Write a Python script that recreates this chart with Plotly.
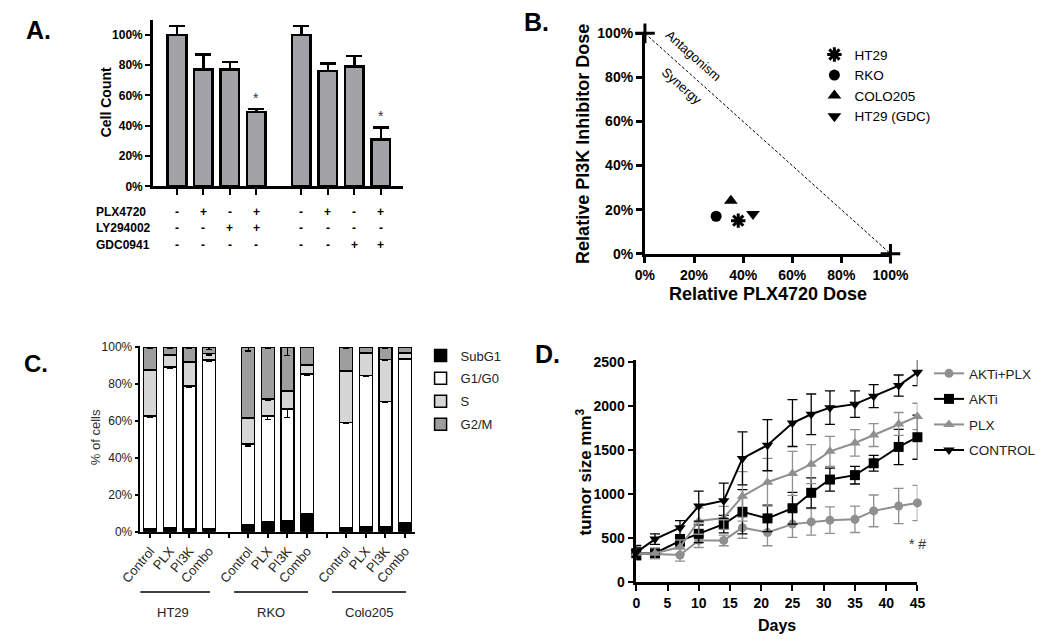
import plotly.graph_objects as go

W, H = 1050, 643
FONT = "Liberation Sans, Arial, sans-serif"
NARROW = "Liberation Sans Narrow, Liberation Sans, Arial, sans-serif"

# ---------------- Panel A data ----------------
a_values = [100, 77, 77, 49, 100, 76, 79, 31]
a_errors = [6, 10, 5, 2, 6, 5, 7, 8]
a_plx = ["-", "+", "-", "+", "-", "+", "-", "+"]
a_ly = ["-", "-", "+", "+", "-", "-", "-", "-"]
a_gdc = ["-", "-", "-", "-", "-", "-", "+", "+"]
a_sig = ["", "", "", "*", "", "", "", "*"]
a_row_labels = ["PLX4720", "LY294002", "GDC0941"]
a_yticks = [0, 20, 40, 60, 80, 100]
a_yticktext = ["0%", "20%", "40%", "60%", "80%", "100%"]

# ---------------- Panel B data ----------------
b_lines = ["HT29", "RKO", "COLO205", "HT29 (GDC)"]
b_plx_dose = [38, 29, 35, 44]
b_pi3k_dose = [15, 17, 24, 18]
b_isobole_x = [0, 100]
b_isobole_y = [100, 0]
b_ticks = [0, 20, 40, 60, 80, 100]
b_ticktext = ["0%", "20%", "40%", "60%", "80%", "100%"]

# ---------------- Panel C data ----------------
c_groups = ["HT29", "RKO", "Colo205"]
c_treatments = ["Control", "PLX", "PI3K", "Combo"]
c_phases = ["SubG1", "G1/G0", "S", "G2/M"]
c_subg1 = [1.3, 2.3, 1.5, 1.5, 3.5, 5.3, 5.8, 9.7, 2.0, 2.5, 2.5, 4.9]
c_g1 = [61.3, 86.9, 77.5, 91.5, 44.1, 57.3, 60.7, 75.8, 57.3, 82.3, 68.2, 88.8]
c_s = [25.2, 6.6, 13.0, 3.6, 14.1, 9.4, 9.7, 4.8, 27.8, 12.0, 22.6, 3.1]
c_g2m = [12.2, 4.2, 8.0, 3.4, 38.3, 28.0, 23.8, 9.7, 12.9, 3.2, 6.7, 3.2]
c_g1_err = [0.8, 0.5, 0.8, 0.5, 1.2, 1.8, 4.5, 0.5, 0.5, 0.4, 0.4, 0.4]
c_s_err = [0.4, 0.4, 0.4, 0.8, 0.4, 0.8, 0.4, 0.3, 0.3, 0.3, 0.3, 0.3]
c_g2m_err = [0.5, 0.5, 0.5, 1.0, 2.0, 0.8, 4.5, 0.3, 0.8, 0.3, 0.8, 0.3]
c_yticks = [0, 20, 40, 60, 80, 100]
c_yticktext = ["0%", "20%", "40%", "60%", "80%", "100%"]

# ---------------- Panel D data ----------------
d_days = [0, 3, 7, 10, 14, 17, 21, 25, 28, 31, 35, 38, 42, 45]
d_combo = [330, 320, 310, 475, 475, 620, 565, 660, 685, 705, 715, 810, 865, 900]
d_combo_err = [60, 50, 70, 80, 60, 120, 150, 150, 150, 150, 150, 180, 200, 200]
d_akti = [330, 330, 470, 550, 660, 800, 725, 840, 1015, 1165, 1215, 1350, 1535, 1645]
d_akti_err = [60, 50, 60, 100, 100, 250, 150, 180, 170, 130, 100, 90, 200, 250]
d_plx = [330, 330, 400, 695, 730, 975, 1135, 1235, 1340, 1485, 1580, 1670, 1795, 1880]
d_plx_err = [80, 60, 80, 150, 130, 280, 270, 250, 220, 170, 150, 130, 130, 150]
d_control = [340, 490, 620, 865, 925, 1405, 1555, 1805, 1905, 1980, 2020, 2110, 2230, 2380]
d_control_err = [80, 60, 80, 170, 200, 300, 290, 265, 230, 190, 150, 130, 120, 150]
d_series = ["AKTi+PLX", "AKTi", "PLX", "CONTROL"]
d_xticks = [0, 5, 10, 15, 20, 25, 30, 35, 40, 45]
d_yticks = [0, 500, 1000, 1500, 2000, 2500]


def fx(x):
    return x / W


def fy(y):
    return 1 - y / H


fig = go.Figure()
ann = []
shapes = []


def note(text, x, y, size, bold=False, color="black", angle=0, xanchor="center"):
    ann.append(dict(x=fx(x), y=fy(y), xref="paper", yref="paper", text=text, showarrow=False,
                    xanchor=xanchor, yanchor="middle", textangle=angle,
                    font=dict(size=size, color=color, weight="bold" if bold else "normal")))


# ================= Panel A =================
a_pos = [i + (0.7 if i >= 4 else 0) for i in range(len(a_values))]
fig.add_trace(go.Bar(
    x=a_pos, y=a_values, width=0.7, xaxis="x", yaxis="y", showlegend=False,
    marker=dict(color="#a3a3a7", line=dict(color="black", width=2.5)),
    error_y=dict(type="data", array=a_errors, arrayminus=[0] * len(a_errors),
                 symmetric=False, color="black", thickness=2.5, width=8),
))
for p, v, e, s in zip(a_pos, a_values, a_errors, a_sig):
    if s:
        ann.append(dict(x=p, y=v + e + 7.5, xref="x", yref="y", text=s, showarrow=False,
                        xanchor="center", yanchor="middle", font=dict(size=14, color="#333")))
for row, (lab, signs) in enumerate(zip(a_row_labels, [a_plx, a_ly, a_gdc])):
    ypix = [209, 226, 243][row]
    note(lab, 76, ypix, 12, bold=True, xanchor="left")
    for p, s in zip(a_pos, signs):
        ann.append(dict(x=p, y=fy(ypix), xref="x", yref="paper", text=s, showarrow=False,
                        xanchor="center", yanchor="middle", font=dict(size=12, weight="bold")))

# ================= Panel B =================
fig.add_trace(go.Scatter(
    x=b_isobole_x, y=b_isobole_y, mode="lines", xaxis="x2", yaxis="y2", showlegend=False,
    line=dict(color="black", width=1, dash="3px,2px"), cliponaxis=False))
fig.add_trace(go.Scatter(
    x=b_isobole_x, y=b_isobole_y, mode="markers", xaxis="x2", yaxis="y2", showlegend=False,
    marker=dict(symbol="cross-thin-open", size=14, color="black", line=dict(color="black", width=3)),
    cliponaxis=False))
b_symbols = ["asterisk-open", "circle", "triangle-up", "triangle-down"]
b_sizes = [12, 11, 12, 12]
for name, xv, yv, sym, sz in zip(b_lines, b_plx_dose, b_pi3k_dose, b_symbols, b_sizes):
    fig.add_trace(go.Scatter(
        x=[xv], y=[yv], mode="markers", name=name, xaxis="x2", yaxis="y2", legend="legend",
        marker=dict(symbol=sym, size=sz, color="black",
                    line=dict(color="black", width=3 if "open" in sym else 0))))
note("Antagonism", 698, 49, 13, angle=41.5)
note("Synergy", 687, 80, 13, angle=41.5)

# ================= Panel C =================
c_pos = []
c_labels = []
for g in range(len(c_groups)):
    for t in range(len(c_treatments)):
        c_pos.append(g * 5 + t)
        c_labels.append(c_treatments[t])
gap_ticks = [g * 5 + len(c_treatments) for g in range(len(c_groups) - 1)]

c_colors = ["black", "white", "#d6d6d6", "#9e9e9e"]
c_data = [c_subg1, c_g1, c_s, c_g2m]
c_errs = [None,
          dict(type="data", array=c_g1_err, color="black", thickness=1.2, width=3),
          dict(type="data", array=c_s_err, color="black", thickness=1.2, width=3),
          dict(type="data", array=[0] * 12, arrayminus=c_g2m_err, symmetric=False,
               color="black", thickness=1.2, width=3)]
for name, vals, col, err in zip(c_phases, c_data, c_colors, c_errs):
    kw = dict(error_y=err) if err else {}
    fig.add_trace(go.Bar(
        x=c_pos, y=vals, name=name, width=0.66, xaxis="x3", yaxis="y3", legend="legend2",
        legendgroup=name,
        marker=dict(color=col, line=dict(color="black", width=1.5)), **kw))
for g, gname in enumerate(c_groups):
    shapes.append(dict(type="line", xref="x3", yref="paper", x0=g * 5 - 0.72, x1=g * 5 + 3.05,
                       y0=fy(599), y1=fy(599), line=dict(color="black", width=1.5)))
    ann.append(dict(x=g * 5 + 1.15, y=fy(620), xref="x3", yref="paper", text=gname, showarrow=False,
                    xanchor="center", yanchor="middle", font=dict(size=13, color="#222")))

# ================= Panel D =================
d_vals = [d_combo, d_akti, d_plx, d_control]
d_errs = [d_combo_err, d_akti_err, d_plx_err, d_control_err]
d_colors = ["#8f8f8f", "black", "#8f8f8f", "black"]
d_symbols = ["circle", "square", "triangle-up", "triangle-down"]
d_msizes = [9, 10, 10, 10]
for name, vals, errs, col, sym, ms in zip(d_series, d_vals, d_errs, d_colors, d_symbols, d_msizes):
    fig.add_trace(go.Scatter(
        x=d_days, y=vals, name=name, mode="lines+markers", xaxis="x4", yaxis="y4",
        legend="legend3", legendgroup=name, cliponaxis=False,
        line=dict(color=col, width=2), marker=dict(symbol=sym, size=ms, color=col),
        error_y=dict(type="data", array=errs, color=col, thickness=1.3, width=5)))
note("* #", 931, 550, 14, color="#333")

# ================= Titles / labels =================
note("A.", 3, 23, 25, bold=True, xanchor="left")
note("B.", 520, 14, 25, bold=True, xanchor="left")
note("C.", 1, 365, 24, bold=True, xanchor="left")
note("D.", 532, 355, 25, bold=True, xanchor="left")
note("Cell Count", 88, 97, 14, bold=True, angle=-90)
note("Relative PI3K Inhibitor Dose", 583, 139, 18, bold=True, angle=-90)
note("Relative PLX4720 Dose", 776, 293, 18, bold=True)
note("% of cells", 77, 440, 13, color="#333", angle=-90)
note("tumor size mm<sup>3</sup>", 585, 476, 17, bold=True, angle=-90)
note("Days", 785, 633, 16, bold=True)

common = dict(showgrid=False, zeroline=False, showline=True, linecolor="black", ticks="outside",
              tickcolor="black")

fig.update_layout(
    width=W, height=H, margin=dict(l=0, r=0, t=0, b=0),
    paper_bgcolor="white", plot_bgcolor="white",
    font=dict(family=FONT, color="black"),
    barmode="stack",
    xaxis=dict(domain=[fx(137), fx(397)], range=[-0.91, 8.55], anchor="y", tickvals=a_pos,
               showticklabels=False, linewidth=2.5, ticklen=6, tickwidth=2, **common),
    yaxis=dict(domain=[fy(183), fy(12)], range=[0, 110], anchor="x", tickvals=a_yticks,
               ticktext=a_yticktext, tickfont=dict(size=12, weight="bold"), linewidth=2.5,
               ticklen=5, tickwidth=2, **common),
    xaxis2=dict(domain=[fx(648), fx(903)], range=[0, 100], anchor="y2", tickvals=b_ticks,
                ticktext=b_ticktext, tickfont=dict(size=14, weight="bold"), linewidth=3,
                ticklen=6, tickwidth=3, **common),
    yaxis2=dict(domain=[fy(252), fy(26)], range=[0, 100], anchor="x2", tickvals=b_ticks,
                ticktext=b_ticktext, tickfont=dict(size=14, weight="bold"), linewidth=3,
                ticklen=6, tickwidth=3, **common),
    xaxis3=dict(domain=[fx(124), fx(409)], range=[-0.5, 13.5], anchor="y3", tickvals=c_pos,
                ticktext=c_labels, tickangle=-50, tickfont=dict(size=13, color="#222"),
                linewidth=1.5, ticklen=5, tickwidth=1.5,
                minor=dict(tickmode="array", tickvals=gap_ticks, ticks="outside", ticklen=5,
                           tickwidth=1.5, tickcolor="black", showgrid=False),
                **common),
    yaxis3=dict(domain=[fy(537), fy(347)], range=[0, 100.5], anchor="x3", tickvals=c_yticks,
                ticktext=c_yticktext, tickfont=dict(size=12, color="#222"), linewidth=1.5,
                ticklen=4, tickwidth=1.5, **common),
    xaxis4=dict(domain=[fx(639), fx(931)], range=[0, 45], anchor="y4", tickvals=d_xticks,
                tickfont=dict(size=14, weight="bold", family=NARROW), linewidth=2.5, ticklen=6,
                tickwidth=2, **common),
    yaxis4=dict(domain=[fy(589), fy(361)], range=[0, 2520], anchor="x4", tickvals=d_yticks,
                tickfont=dict(size=14, weight="bold", family=NARROW), linewidth=2.5, ticklen=6,
                tickwidth=2, **common),
    legend=dict(x=fx(824), y=fy(32), xanchor="left", yanchor="top", font=dict(size=13.5),
                bgcolor="rgba(0,0,0,0)", traceorder="normal"),
    legend2=dict(x=fx(415), y=fy(341), xanchor="left", yanchor="top",
                 font=dict(size=13, color="#222"), bgcolor="rgba(0,0,0,0)",
                 traceorder="grouped", tracegroupgap=3),
    legend3=dict(x=fx(943), y=fy(359), xanchor="left", yanchor="top",
                 font=dict(size=13.5, color="#222"), bgcolor="rgba(0,0,0,0)",
                 traceorder="grouped", tracegroupgap=5),
    annotations=ann, shapes=shapes,
)

fig.write_html("out.html", config={"displayModeBar": False},
               post_script="document.body.style.margin='0';")
